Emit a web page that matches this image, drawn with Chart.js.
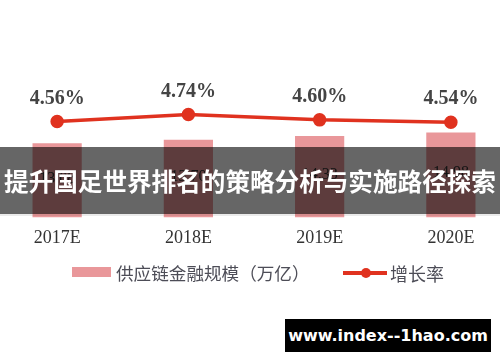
<!DOCTYPE html>
<html>
<head>
<meta charset="utf-8">
<script src="https://cdn.jsdelivr.net/npm/chart.js@4.4.0/dist/chart.umd.min.js"></script>
<style>
  html, body { margin: 0; padding: 0; background: #fff; }
  body { width: 500px; height: 362px; position: relative; overflow: hidden; }
  #wrap { position: absolute; left: -17px; top: 0; width: 542px; height: 262px; }
  .banner {
    position: absolute; left: 0; top: 147px; width: 500px; height: 67px;
    background: rgba(0, 0, 0, 0.6);
    box-shadow: 0 2px 0 rgba(0, 0, 0, 0.08);
    color: #fff; font: bold 24.6px "Noto Sans CJK SC", sans-serif;
    line-height: 67px; text-align: center; white-space: nowrap; letter-spacing: 0;
  }
  .legend { position: absolute; top: 260px; left: 0; width: 500px; height: 26px;
    font-family: "Noto Sans CJK SC", sans-serif; color: #4d4d57; }
  .legend .sw-bar { position: absolute; left: 72px; top: 7px; width: 39px; height: 10px; background: #e9979a; }
  .legend .t1 { position: absolute; left: 116px; top: 0; font-size: 17.6px; line-height: 26px; white-space: nowrap; }
  .legend .sw-line { position: absolute; left: 343px; top: 11px; width: 44px; height: 4px; background: #e0321f; }
  .legend .sw-dot { position: absolute; left: 361px; top: 8px; width: 10px; height: 10px; border-radius: 50%; background: #e0321f; }
  .legend .t2 { position: absolute; left: 390px; top: 0; font-size: 18px; line-height: 26px; white-space: nowrap; }
  .mark {
    position: absolute; left: 285px; top: 319px; width: 206px; height: 33px;
    background: #000; color: #fff; font: bold 16px "DejaVu Sans", sans-serif;
    line-height: 33px; text-align: center; white-space: nowrap;
  }
</style>
</head>
<body>
<div id="wrap"><canvas id="chart" width="542" height="262"></canvas></div>
<div class="banner">提升国足世界排名的策略分析与实施路径探索</div>
<div class="legend">
  <div class="sw-bar"></div><div class="t1">供应链金融规模（万亿）</div>
  <div class="sw-line"></div><div class="sw-dot"></div><div class="t2">增长率</div>
</div>
<div class="mark">www.index--1hao.com</div>
<script>
const years = ['2017E', '2018E', '2019E', '2020E'];
const scaleValues = [13.08, 13.70, 14.33, 14.98];
const growthRates = [4.56, 4.74, 4.60, 4.54];
const growthLabels = ['4.56%', '4.74%', '4.60%', '4.54%'];

const valueLabels = {
  id: 'valueLabels',
  afterDatasetsDraw(chart) {
    const ctx = chart.ctx;
    ctx.save();
    ctx.textAlign = 'center';
    ctx.textBaseline = 'middle';

    const bars = chart.getDatasetMeta(1).data;
    ctx.font = '16px "Liberation Serif", serif';
    ctx.fillStyle = '#333';
    bars.forEach((bar, i) => {
      ctx.fillText(scaleValues[i].toFixed(2), bar.x, (bar.y + bar.base) / 2 - 2);
    });

    const points = chart.getDatasetMeta(0).data;
    ctx.font = 'bold 20px "Liberation Serif", serif';
    ctx.fillStyle = '#444';
    points.forEach((pt, i) => {
      ctx.fillText(growthLabels[i], pt.x, pt.y - 23);
    });
    ctx.restore();
  }
};

new Chart(document.getElementById('chart'), {
  data: {
    labels: years,
    datasets: [
      {
        type: 'line',
        label: '增长率',
        data: growthRates,
        yAxisID: 'y1',
        borderColor: '#e0321f',
        backgroundColor: '#e0321f',
        borderWidth: 3.5,
        pointRadius: 5,
        pointHoverRadius: 5,
        tension: 0,
        order: 0
      },
      {
        type: 'bar',
        label: '供应链金融规模（万亿）',
        data: scaleValues,
        yAxisID: 'y',
        backgroundColor: '#e9979a',
        barPercentage: 0.375,
        categoryPercentage: 1,
        order: 1
      }
    ]
  },
  options: {
    responsive: false,
    animation: false,
    layout: { padding: { top: 20, bottom: 3 } },
    plugins: { legend: { display: false }, tooltip: { enabled: false } },
    scales: {
      x: {
        grid: { display: false, drawTicks: false },
        border: { display: false },
        ticks: { color: '#333', padding: 10, font: { family: '"Liberation Serif", serif', size: 18 } }
      },
      y: { display: false, min: 0, max: 34.8 },
      y1: { display: false, min: 2.10, max: 7.16 }
    }
  },
  plugins: [valueLabels]
});
</script>
</body>
</html>
